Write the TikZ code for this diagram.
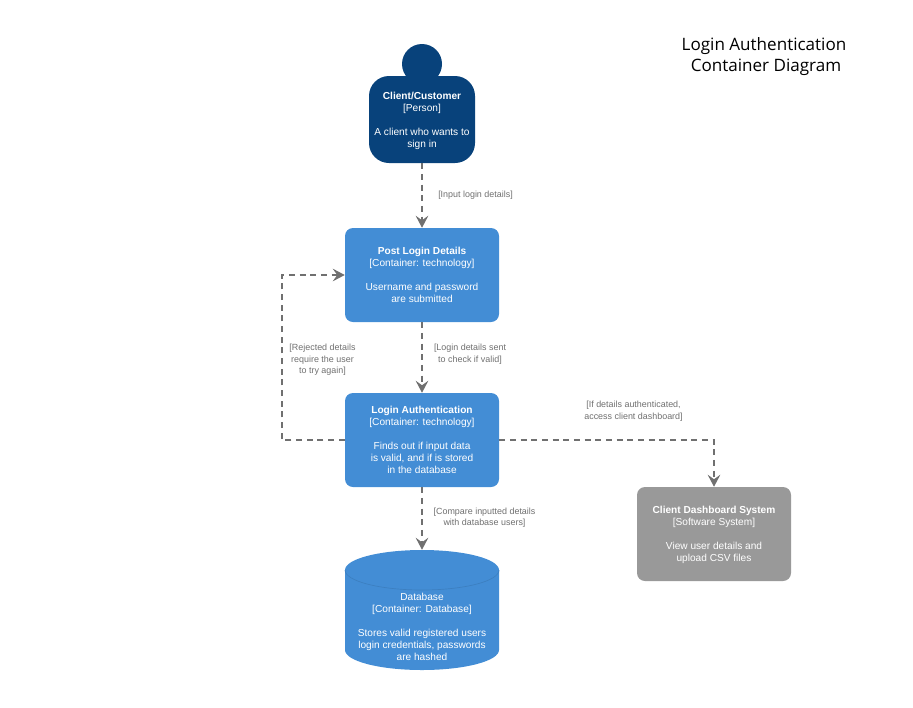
\documentclass[tikz,border=0pt]{standalone}
\usepackage{fontspec}
\setmainfont{Liberation Sans}
\newfontfamily\titlefont{Open Sans}
\usetikzlibrary{arrows.meta}
\definecolor{persondark}{HTML}{08427B}
\definecolor{contblue}{HTML}{438DD5}
\definecolor{sysgrey}{HTML}{999999}
\definecolor{linegrey}{HTML}{707070}
\definecolor{labelgrey}{HTML}{6F6F6F}
\definecolor{dbedge}{HTML}{3C7FC0}
\tikzset{
  boxbase/.style={rounded corners=6pt,minimum width=115.5pt,minimum height=70.5pt,inner sep=0pt,align=center,text=white,font=\fontsize{7.6}{9}\selectfont},
  contbox/.style={boxbase,fill=contblue},
  sysbox/.style={boxbase,fill=sysgrey},
  textonly/.style={inner sep=0pt,align=center,text=white,font=\fontsize{7.6}{9}\selectfont},
  conn/.style={draw=linegrey,line width=1.1pt,dash pattern=on 4.5pt off 3.5pt,-{Stealth[length=9pt,width=9.5pt,inset=3.4pt,sep=0pt]}},
  rel/.style={inner sep=0pt,align=center,text=labelgrey,font=\fontsize{6.7}{8.6}\selectfont},
}
\begin{document}
\begin{tikzpicture}[x=0.75pt,y=-0.75pt]
\useasboundingbox (0,0) rectangle (913,707);
% person
\fill[persondark] (422,64) circle (15pt);
\node[rounded corners=15pt,fill=persondark,minimum width=79.5pt,minimum height=65.25pt,inner sep=0pt,align=center,text=white,font=\fontsize{7.6}{9}\selectfont] (person) at (422,119.5) {\rule{0pt}{7.2pt}\textbf{Client/Customer}\\{}[Person]\\[9pt] A client who wants to\\ sign in};
% containers
\node[contbox] (post) at (422,275) {\textbf{Post Login Details}\\{}[Container: technology]\\[9pt] Username and password\\ are submitted};
\node[contbox] (auth) at (422,440) {\textbf{Login Authentication}\\{}[Container: technology]\\[9pt] Finds out if input data\\ is valid, and if is stored\\ in the database};
\node[sysbox] (dash) at (714,534) {\rule{0pt}{7.2pt}\textbf{Client Dashboard System}\\{}[Software System]\\[9pt] View user details and\\ upload CSV files};
% database
\path[fill=contblue] (345,570) arc[start angle=180,end angle=0,x radius=57.75pt,y radius=15pt] -- (499,650) arc[start angle=0,end angle=-180,x radius=57.75pt,y radius=15pt] -- cycle;
\draw[dbedge,line width=0.5pt] (345,570) arc[start angle=180,end angle=360,x radius=57.75pt,y radius=15pt];
\node[textonly,minimum width=115.5pt,minimum height=90pt] (db) at (422,610) {};
\node[textonly] (dbtext) at (422,627) {Database\\{}[Container: Database]\\[9pt] Stores valid registered users\\ login credentials, passwords\\ are hashed};
% helper corner
\coordinate (loop) at (282,360);
% connectors
\draw[conn] (person.south) -- (post.north);
\draw[conn] (post.south) -- (auth.north);
\draw[conn] (auth.south) -- (db.north);
\draw[conn] (auth.west) -| (loop) |- (post.west);
\draw[conn] (auth.east) -| (dash.north);
% labels
\node[rel] (l1) at (475.5,195.5) {[Input login details]};
\node[rel] (l2) at (470,354) {[Login details sent\\ to check if valid]};
\node[rel] (l3) at (322.5,360) {[Rejected details\\ require the user\\ to try again]};
\node[rel] (l4) at (484.5,517.5) {[Compare inputted details\\ with database users]};
\node[rel] (l5) at (633.5,411) {[If details authenticated,\\ access client dashboard]};
% title
\node[inner sep=0pt,align=center,text=black,font=\titlefont\fontsize{12.8}{15.8}\selectfont] (title) at (764,57) {Login Authentication\\ \hspace*{3pt}Container Diagram};
\end{tikzpicture}
\end{document}
